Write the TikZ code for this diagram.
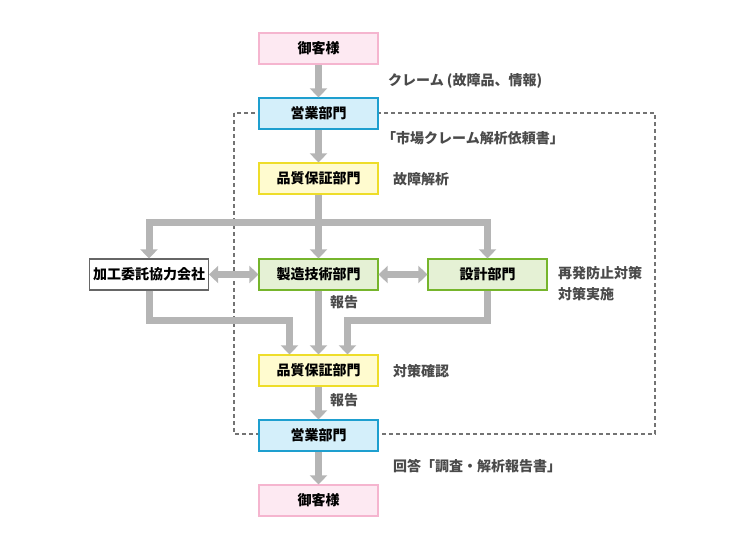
\documentclass[tikz,border=0pt]{standalone}
\usepackage{fontspec}
\setmainfont{Noto Sans CJK JP}
\usepackage{xcolor}
\usetikzlibrary{positioning, arrows.meta}

\definecolor{arrowgray}{HTML}{B5B5B5}
\definecolor{textgray}{HTML}{4A4A4A}
\definecolor{pinkfill}{HTML}{FDE9F2}
\definecolor{pinkline}{HTML}{F5B5CF}
\definecolor{bluefill}{HTML}{D4EFFA}
\definecolor{blueline}{HTML}{1E9FCF}
\definecolor{yellowfill}{HTML}{FFFBCF}
\definecolor{yellowline}{HTML}{EEDD2A}
\definecolor{greenfill}{HTML}{E5F1D5}
\definecolor{greenline}{HTML}{76B52C}

\tikzset{
  box/.style={draw, line width=1.2pt, minimum width=119pt, minimum height=31pt,
    inner sep=0pt, font=\fontsize{14}{16}\selectfont\bfseries},
  customer/.style={box, fill=pinkfill, draw=pinkline},
  sales/.style={box, fill=bluefill, draw=blueline},
  quality/.style={box, fill=yellowfill, draw=yellowline},
  dept/.style={box, fill=greenfill, draw=greenline},
  partner/.style={box, fill=white, draw=black!60},
  flow/.style={draw=arrowgray, line width=7pt, -{Triangle[width=17pt,length=9pt]}},
  flowboth/.style={draw=arrowgray, line width=7pt, {Triangle[width=17pt,length=9pt]}-{Triangle[width=17pt,length=9pt]}},
  note/.style={anchor=west, inner sep=0pt, text=textgray, font=\fontsize{14}{21}\selectfont\bfseries, align=left},
  frame/.style={draw=black!55, line width=1.2pt, dash pattern=on 4pt off 3pt}
}

\begin{document}
\begin{tikzpicture}[x=1pt, y=-1pt]
        \useasboundingbox (0,0) rectangle (739,550);

        % Dashed frame
        \draw[frame] (234,113) rectangle (655,434);

        % Main column
        \node[customer] (cust1) at (318.5,48.5) {御客様};
        \node[sales] (sales1) at (318.5,113.5) {営業部門};
        \node[quality] (qa1) at (318.5,178.5) {品質保証部門};
        \node[dept] (mfg) at (318.5,274.5) {製造技術部門};
        \node[partner] (sub) at (149,274.5) {加工委託協力会社};
        \node[dept] (design) at (487.5,274.5) {設計部門};
        \node[quality] (qa2) at (318.5,370.5) {品質保証部門};
        \node[sales] (sales2) at (318.5,435.5) {営業部門};
        \node[customer] (cust2) at (318.5,500.5) {御客様};

        % Junction points
        \coordinate (split) at ([yshift=-28pt]qa1.south);
        \coordinate (inL) at ([xshift=-29pt]qa2.north);
        \coordinate (inR) at ([xshift=29pt]qa2.north);

        % Connectors
        \draw[flow] (cust1) -- (sales1);
        \draw[flow] (sales1) -- (qa1);
        \draw[flow] (qa1) -- (mfg);
        \draw[flow] (split) -| (sub.north);
        \draw[flow] (split) -| (design.north);
        \draw[flowboth] (sub) -- (mfg);
        \draw[flowboth] (mfg) -- (design);
        \draw[flow] (sub.south) -- ++(0,30) -| (inL);
        \draw[flow] (design.south) -- ++(0,30) -| (inR);
        \draw[flow] (mfg) -- (qa2);
        \draw[flow] (qa2) -- (sales2);
        \draw[flow] (sales2) -- (cust2);

        % Labels
        \node[note] (n1) at (388,81) {クレーム (故障品、情報)};
        \node[note] (n2) at (382,138) {「市場クレーム解析依頼書」};
        \node[note] (n3) at (393,179) {故障解析};
        \node[note] (n4) at (558,284) {再発防止対策\\対策実施};
        \node[note] (n5) at (330,302) {報告};
        \node[note] (n6) at (393,371) {対策確認};
        \node[note] (n7) at (330,400) {報告};
        \node[note] (n8) at (393,466) {回答「調査・解析報告書」};
    \end{tikzpicture}
\end{document}
